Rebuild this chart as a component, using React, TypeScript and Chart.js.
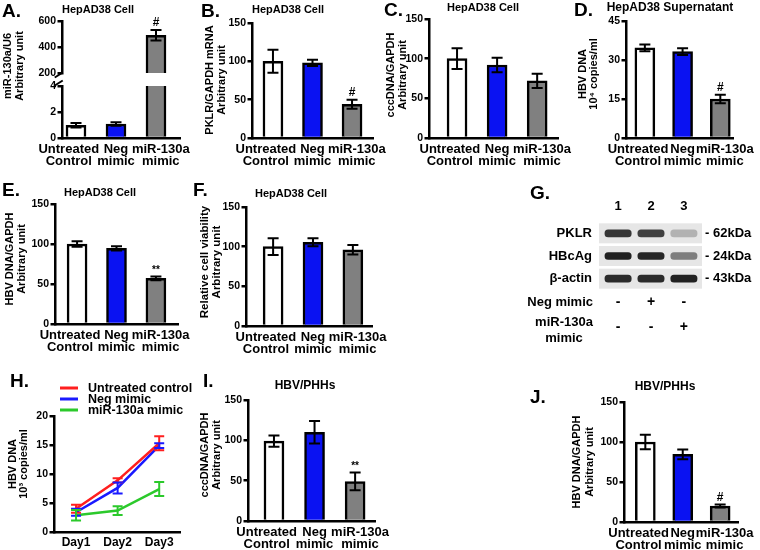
import React, { useEffect, useRef } from 'react';
import { Chart, registerables } from 'chart.js';

Chart.register(...registerables);
Chart.defaults.color = '#000';

const W = 760;
const H = 550;
const FONT = '"Liberation Sans", Arial, Helvetica, sans-serif';
Chart.defaults.font.family = FONT;

// ---------------- data ----------------
const groupLabels = [['Untreated', 'Control'], ['Neg', 'mimic'], ['miR-130a', 'mimic']];
const groupColors = ['#ffffff', '#0a12f2', '#808080'];

// A. miR-130a/U6
const aValues = [0.98, 1.08, 490];
const aErrors = [0.18, 0.14, 40];
const aMarks = ['', '', '#'];
// B. PKLR/GAPDH mRNA
const bValues = [100, 98, 44];
const bErrors = [15, 4, 6];
const bMarks = ['', '', '#'];
// C. cccDNA/GAPDH
const cValues = [100, 92, 72];
const cErrors = [13, 9, 9];
// D. HBV DNA supernatant (10^4 copies/ml)
const dValues = [34.7, 33.2, 15];
const dErrors = [1.3, 1.3, 1.6];
const dMarks = ['', '', '#'];
// E. HBV DNA/GAPDH
const eValues = [100, 94.5, 57];
const eErrors = [3.5, 2.7, 2.3];
const eMarks = ['', '', '**'];
// F. Relative cell viability
const fValues = [100, 105.5, 96];
const fErrors = [10.5, 5, 6];
// G. Western blot
const gLanes = ['1', '2', '3'];
const gProteins = ['PKLR', 'HBcAg', 'β-actin'];
const gMarkers = ['- 62kDa', '- 24kDa', '- 43kDa'];
const gPKLR = [0.85, 0.8, 0.25];
const gHBcAg = [0.95, 0.92, 0.5];
const gActin = [0.9, 0.9, 0.95];
const gTreatments = [['Neg mimic'], ['miR-130a', 'mimic']];
const gNegMimic = ['-', '+', '-'];
const gMirMimic = ['-', '-', '+'];
// H. HBV DNA time course (10^3 copies/ml)
const hDays = ['Day1', 'Day2', 'Day3'];
const hUntreated = [4.0, 8.9, 15.3];
const hUntreatedErr = [0.7, 0.35, 1.2];
const hNeg = [3.4, 7.6, 14.9];
const hNegErr = [0.6, 0.95, 0.4];
const hMir = [2.9, 3.7, 7.4];
const hMirErr = [0.9, 0.75, 1.2];
// I. cccDNA/GAPDH in PHHs
const iValues = [99, 110, 49];
const iErrors = [7, 14, 11];
const iMarks = ['', '', '**'];
// J. HBV DNA/GAPDH in PHHs
const jValues = [100, 84.5, 20];
const jErrors = [9, 6, 2];
const jMarks = ['', '', '#'];

// label placement offsets (in category units) for the group tick labels
const labelShift = [-0.18, 0, 0.12];

// ---------------- plugins ----------------
const errorBarPlugin = {
  id: 'errorBars',
  afterDatasetsDraw(chart: any) {
    const { ctx, chartArea } = chart;
    ctx.save();
    ctx.beginPath();
    ctx.rect(0, 0, chart.width, chartArea.bottom);
    ctx.clip();
    chart.data.datasets.forEach((ds: any, di: number) => {
      if (!ds.errors) return;
      const meta = chart.getDatasetMeta(di);
      const xs = chart.scales[meta.xAxisID];
      const ys = chart.scales[meta.yAxisID];
      ctx.strokeStyle = ds.errorColor || '#000';
      ctx.lineWidth = 2;
      ds.data.forEach((pt: any, i: number) => {
        if (pt == null || pt.y == null) return;
        const e = ds.errors[i];
        const x = xs.getPixelForValue(pt.x);
        const yHi = ys.getPixelForValue(pt.y + e);
        const yLo = ys.getPixelForValue(pt.y - e);
        const cap = ds.capHalf || 5.5;
        ctx.beginPath();
        ctx.moveTo(x, yLo);
        ctx.lineTo(x, yHi);
        ctx.moveTo(x - cap, yHi);
        ctx.lineTo(x + cap, yHi);
        ctx.moveTo(x - cap, yLo);
        ctx.lineTo(x + cap, yLo);
        ctx.stroke();
        if (ds.marks && ds.marks[i]) {
          ctx.fillStyle = '#000';
          ctx.font = `bold ${ds.marks[i] === '#' ? 12 : 10}px ${FONT}`;
          ctx.textAlign = 'center';
          ctx.textBaseline = 'bottom';
          ctx.fillText(ds.marks[i], x, yHi - 1);
        }
      });
    });
    ctx.restore();
  },
};

const decorPlugin = {
  id: 'decor',
  afterDraw(chart: any, _args: any, opts: any) {
    const ctx = chart.ctx;
    ctx.save();
    ctx.fillStyle = '#000';
    ctx.textBaseline = 'middle';
    if (opts.letter) {
      ctx.font = `bold 19px ${FONT}`;
      ctx.textAlign = 'left';
      ctx.fillText(opts.letter.text, opts.letter.x, opts.letter.y);
    }
    if (opts.title) {
      ctx.font = `bold ${opts.title.size || 11}px ${FONT}`;
      ctx.textAlign = 'center';
      ctx.fillText(opts.title.text, opts.title.x, opts.title.y);
    }
    if (opts.yTitle) {
      const { lines, x, y } = opts.yTitle;
      const lh = opts.yTitle.lh || 12;
      ctx.font = `bold ${opts.yTitle.size || 11}px ${FONT}`;
      ctx.textAlign = 'center';
      lines.forEach((ln: string, i: number) => {
        ctx.save();
        ctx.translate(x + i * lh, y);
        ctx.rotate(-Math.PI / 2);
        ctx.fillText(ln, 0, 0);
        ctx.restore();
      });
    }
    if (opts.axisBreak) {
      const x = chart.chartArea.left - 1.25;
      const t = chart.chartArea.top;
      ctx.strokeStyle = '#000';
      ctx.lineWidth = 2;
      [t - 3, t - 11].forEach((y) => {
        ctx.beginPath();
        ctx.moveTo(x - 6, y + 2.5);
        ctx.lineTo(x + 2, y - 2.5);
        ctx.stroke();
      });
    }
    if (opts.legend) {
      const { x, y, lh, len, gap } = opts.legend;
      ctx.font = `bold 12.5px ${FONT}`;
      ctx.textAlign = 'left';
      chart.data.datasets.forEach((ds: any, i: number) => {
        const yy = y + i * lh;
        ctx.strokeStyle = ds.borderColor;
        ctx.lineWidth = 3;
        ctx.beginPath();
        ctx.moveTo(x, yy);
        ctx.lineTo(x + len, yy);
        ctx.stroke();
        ctx.fillText(ds.label, x + len + gap, yy + 0.5);
      });
    }
    ctx.restore();
  },
};

// ---------------- helpers ----------------
function yAxis(min: number, max: number, step: number, yw: number) {
  return {
    type: 'linear',
    min,
    max,
    ticks: { stepSize: step, color: '#000', font: { family: FONT, size: 10.5, weight: 'bold' }, padding: 1.5 },
    grid: { display: true, drawOnChartArea: false, drawTicks: true, tickLength: 4.5, color: '#000', lineWidth: 2.5 },
    border: { display: true, color: '#000', width: 2.5 },
    afterFit: (s: any) => {
      s.width = yw;
    },
  };
}

function xCats(
  labels: any[],
  min: number,
  max: number,
  xh: number,
  size: number,
  lineHeight: string,
  show = true,
  shift: number[] = [0, 0, 0]
) {
  return {
    type: 'linear',
    display: show,
    offset: false,
    min,
    max,
    afterBuildTicks: (s: any) => {
      s.ticks = labels.map((_: any, i: number) => ({ value: i + shift[i] }));
    },
    ticks: {
      callback: (_v: number, i: number) => labels[i],
      color: '#000',
      font: { family: FONT, size, weight: 'bold', lineHeight },
      padding: 5,
      maxRotation: 0,
      autoSkip: false,
    },
    grid: { display: false, drawTicks: false, offset: false },
    border: { display: true, color: '#000', width: 2.5 },
    afterFit: (s: any) => {
      s.height = xh;
    },
  };
}

type Area = [number, number, number, number];

type BarSpec = {
  area: Area;
  xRange: [number, number];
  yRange: [number, number];
  yStep: number;
  values: (number | null)[];
  errors: number[];
  marks?: string[];
  showX?: boolean;
  decor?: any;
};

function barConfig(s: BarSpec) {
  const yw = 30;
  const show = s.showX !== false;
  const xh = show ? 40 : 0;
  const [l, t, r, b] = s.area;
  return {
    type: 'bar',
    data: {
      datasets: [
        {
          data: s.values.map((v, i) => ({ x: i, y: v })),
          backgroundColor: groupColors,
          borderColor: '#000',
          borderWidth: 2.5,
          barThickness: 20,
          errors: s.errors,
          marks: s.marks,
        },
      ],
    },
    options: {
      animation: false,
      responsive: false,
      devicePixelRatio: 1,
      events: [],
      layout: { padding: { left: l - yw, top: t, right: W - r, bottom: H - b - xh } },
      plugins: { legend: { display: false }, tooltip: { enabled: false }, decor: s.decor || {} },
      scales: {
        x: xCats(groupLabels, s.xRange[0], s.xRange[1], xh, 13, '12px', show, labelShift),
        y: yAxis(s.yRange[0], s.yRange[1], s.yStep, yw),
      },
    },
    plugins: [errorBarPlugin, decorPlugin],
  };
}

function lineConfig() {
  const area: Area = [54, 416, 180, 532];
  const yw = 30;
  const xh = 20;
  const mk = (label: string, vals: number[], errs: number[], color: string) => ({
    label,
    data: vals.map((v, i) => ({ x: i, y: v })),
    borderColor: color,
    backgroundColor: color,
    borderWidth: 2.5,
    pointRadius: 0,
    tension: 0,
    errors: errs,
    errorColor: color,
    capHalf: 5,
  });
  return {
    type: 'line',
    data: {
      datasets: [
        mk('Untreated control', hUntreated, hUntreatedErr, '#ff1f1f'),
        mk('Neg mimic', hNeg, hNegErr, '#1a1aff'),
        mk('miR-130a mimic', hMir, hMirErr, '#2bc92b'),
      ],
    },
    options: {
      animation: false,
      responsive: false,
      devicePixelRatio: 1,
      events: [],
      layout: { padding: { left: area[0] - yw, top: area[1], right: W - area[2], bottom: H - area[3] - xh } },
      plugins: {
        legend: { display: false },
        tooltip: { enabled: false },
        decor: {
          letter: { text: 'H.', x: 10, y: 382 },
          yTitle: { lines: ['HBV DNA', '10³ copies/ml'], x: 13, y: 464, lh: 11 },
          legend: { x: 60, y: 388, lh: 11, len: 18, gap: 10 },
        },
      },
      scales: {
        x: xCats(hDays, -0.53, 2.5, xh, 12, '12px'),
        y: yAxis(0, 20, 5, yw),
      },
    },
    plugins: [errorBarPlugin, decorPlugin],
  };
}

const blotPlugin = {
  id: 'blot',
  beforeDatasetsDraw(chart: any) {
    const { ctx, chartArea } = chart;
    const ys = chart.scales.y;
    ctx.save();
    ctx.fillStyle = '#e6e6e6';
    ys.ticks.forEach((_: any, i: number) => {
      const y = ys.getPixelForTick(i);
      ctx.fillRect(chartArea.left, y - 10, chartArea.right - chartArea.left, 20);
    });
    ctx.restore();
  },
  afterDraw(chart: any) {
    const { ctx, chartArea } = chart;
    const xs = chart.scales.x;
    const b = chartArea.bottom;
    ctx.save();
    ctx.fillStyle = '#000';
    ctx.font = `bold 13px ${FONT}`;
    ctx.textBaseline = 'middle';
    ctx.textAlign = 'right';
    ctx.fillText(gTreatments[0][0], chartArea.left - 6, b + 12);
    ctx.textAlign = 'center';
    ctx.fillText(gTreatments[1][0], chartArea.left - 35, b + 32);
    ctx.fillText(gTreatments[1][1], chartArea.left - 35, b + 48);
    ctx.font = `bold 14px ${FONT}`;
    gNegMimic.forEach((s, i) => ctx.fillText(s, xs.getPixelForValue(i + 1), b + 12));
    gMirMimic.forEach((s, i) => ctx.fillText(s, xs.getPixelForValue(i + 1), b + 37));
    ctx.restore();
  },
};

function blotConfig() {
  const area: Area = [599, 222, 702, 290];
  const yw = 59;
  const y2w = 55;
  const xh = 22;
  const rows = [gPKLR, gHBcAg, gActin];
  const datasets = gLanes.map((_, li) => ({
    label: 'Lane ' + gLanes[li],
    data: gProteins.map(() => [li + 1 - 0.4, li + 1 + 0.4]),
    backgroundColor: rows.map((r) => `rgba(22,22,22,${r[li]})`),
    borderWidth: 0,
    borderRadius: 3.5,
    borderSkipped: false,
    barThickness: 7,
    grouped: false,
    yAxisID: 'y',
  }));
  return {
    type: 'bar',
    data: { labels: gProteins, datasets },
    options: {
      indexAxis: 'y',
      animation: false,
      responsive: false,
      devicePixelRatio: 1,
      events: [],
      layout: { padding: { left: area[0] - yw, top: area[1] - xh, right: W - area[2] - y2w, bottom: H - area[3] } },
      plugins: {
        legend: { display: false },
        tooltip: { enabled: false },
        decor: { letter: { text: 'G.', x: 530, y: 194 } },
      },
      scales: {
        x: {
          type: 'linear',
          position: 'top',
          offset: false,
          min: 0.42,
          max: 3.55,
          afterBuildTicks: (s: any) => {
            s.ticks = gLanes.map((_, i) => ({ value: i + 1 }));
          },
          ticks: {
            callback: (_v: number, i: number) => gLanes[i],
            font: { family: FONT, size: 13, weight: 'bold', lineHeight: '14px' },
            padding: 9,
            color: '#000',
          },
          grid: { display: false, drawTicks: false },
          border: { display: false },
          afterFit: (s: any) => {
            s.height = xh;
          },
        },
        y: {
          type: 'category',
          position: 'left',
          offset: true,
          ticks: { font: { family: FONT, size: 13, weight: 'bold' }, padding: 7, color: '#000' },
          grid: { display: false, drawTicks: false },
          border: { display: false },
          afterFit: (s: any) => {
            s.width = yw;
          },
        },
        y2: {
          type: 'category',
          position: 'right',
          labels: gMarkers,
          offset: true,
          ticks: { font: { family: FONT, size: 13, weight: 'bold' }, padding: 3, color: '#000' },
          grid: { display: false, drawTicks: false },
          border: { display: false },
          afterFit: (s: any) => {
            s.width = y2w;
          },
        },
      },
    },
    plugins: [blotPlugin, decorPlugin],
  };
}

const makers: (() => any)[] = [
  () =>
    barConfig({
      area: [62, 86, 180, 138],
      xRange: [-0.35, 2.6],
      yRange: [0, 4],
      yStep: 2,
      values: aValues,
      errors: aErrors,
      decor: {
        letter: { text: 'A.', x: 2, y: 12 },
        title: { text: 'HepAD38 Cell', x: 98, y: 10 },
        yTitle: { lines: ['miR-130a/U6', 'Arbitrary unit'], x: 8, y: 66 },
        axisBreak: true,
      },
    }),
  () =>
    barConfig({
      area: [62, 21, 180, 73],
      xRange: [-0.35, 2.6],
      yRange: [200, 600],
      yStep: 200,
      values: aValues.map((v) => (v >= 200 ? v : null)),
      errors: aErrors,
      marks: aMarks,
      showX: false,
    }),
  () =>
    barConfig({
      area: [252, 23, 373, 138],
      xRange: [-0.53, 2.53],
      yRange: [0, 150],
      yStep: 50,
      values: bValues,
      errors: bErrors,
      marks: bMarks,
      decor: {
        letter: { text: 'B.', x: 201, y: 12 },
        title: { text: 'HepAD38 Cell', x: 288, y: 10 },
        yTitle: { lines: ['PKLR/GAPDH mRNA', 'Arbitrary unit'], x: 210, y: 80 },
      },
    }),
  () =>
    barConfig({
      area: [429, 19, 558, 138],
      xRange: [-0.7, 2.52],
      yRange: [0, 150],
      yStep: 50,
      values: cValues,
      errors: cErrors,
      decor: {
        letter: { text: 'C.', x: 384, y: 11 },
        title: { text: 'HepAD38 Cell', x: 483, y: 8 },
        yTitle: { lines: ['cccDNA/GAPDH', 'Arbitrary unit'], x: 391, y: 75, lh: 11.5 },
      },
    }),
  () =>
    barConfig({
      area: [626, 21, 745, 138],
      xRange: [-0.5, 2.36],
      yRange: [0, 45],
      yStep: 15,
      values: dValues,
      errors: dErrors,
      marks: dMarks,
      decor: {
        letter: { text: 'D.', x: 574, y: 11 },
        title: { text: 'HepAD38 Supernatant', x: 670, y: 8, size: 12 },
        yTitle: { lines: ['HBV DNA', '10⁴ copies/ml'], x: 583, y: 74, lh: 11 },
      },
    }),
  () =>
    barConfig({
      area: [55, 204, 178, 324],
      xRange: [-0.56, 2.56],
      yRange: [0, 150],
      yStep: 50,
      values: eValues,
      errors: eErrors,
      marks: eMarks,
      decor: {
        letter: { text: 'E.', x: 2, y: 191 },
        title: { text: 'HepAD38 Cell', x: 100, y: 193 },
        yTitle: { lines: ['HBV DNA/GAPDH', 'Arbitrary unit'], x: 10, y: 259 },
      },
    }),
  () =>
    barConfig({
      area: [246, 207, 372, 326],
      xRange: [-0.68, 2.48],
      yRange: [0, 150],
      yStep: 50,
      values: fValues,
      errors: fErrors,
      decor: {
        letter: { text: 'F.', x: 193, y: 191 },
        title: { text: 'HepAD38 Cell', x: 291, y: 194 },
        yTitle: { lines: ['Relative cell viability', 'Arbitrary unit'], x: 205, y: 262, lh: 12, size: 11.5 },
      },
    }),
  blotConfig,
  lineConfig,
  () =>
    barConfig({
      area: [248, 400, 375, 521],
      xRange: [-0.64, 2.49],
      yRange: [0, 150],
      yStep: 50,
      values: iValues,
      errors: iErrors,
      marks: iMarks,
      decor: {
        letter: { text: 'I.', x: 203, y: 382 },
        title: { text: 'HBV/PHHs', x: 305, y: 386, size: 12 },
        yTitle: { lines: ['cccDNA/GAPDH', 'Arbitrary unit'], x: 205, y: 455 },
      },
    }),
  () =>
    barConfig({
      area: [624, 402, 748, 522],
      xRange: [-0.57, 2.49],
      yRange: [0, 150],
      yStep: 50,
      values: jValues,
      errors: jErrors,
      marks: jMarks,
      decor: {
        letter: { text: 'J.', x: 530, y: 398 },
        title: { text: 'HBV/PHHs', x: 665, y: 387, size: 12 },
        yTitle: { lines: ['HBV DNA/GAPDH', 'Arbitrary unit'], x: 577, y: 462, lh: 13 },
      },
    }),
];

function ChartLayer({ make }: { make: () => any }) {
  const ref = useRef<HTMLCanvasElement>(null);
  useEffect(() => {
    const chart = new Chart(ref.current as HTMLCanvasElement, make());
    return () => chart.destroy();
  }, [make]);
  return <canvas ref={ref} width={W} height={H} style={{ position: 'absolute', left: 0, top: 0 }} />;
}

export default function App() {
  return (
    <div style={{ position: 'absolute', left: 0, top: 0, width: W, height: H, background: '#fff', overflow: 'hidden' }}>
      {makers.map((m, i) => (
        <ChartLayer key={i} make={m} />
      ))}
    </div>
  );
}
